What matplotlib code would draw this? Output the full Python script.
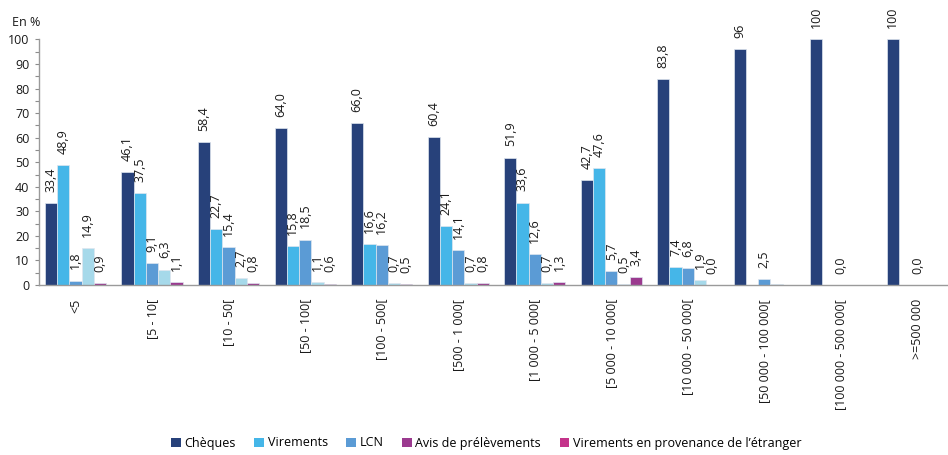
import numpy as np
import matplotlib
matplotlib.use("Agg")
import matplotlib.pyplot as plt
from matplotlib.patches import Patch
from matplotlib.ticker import MultipleLocator

plt.rcParams['font.family'] = ['Open Sans', 'DejaVu Sans']

categories = ["<5", "[5 - 10[", "[10 - 50[", "[50 - 100[", "[100 - 500[",
              "[500 - 1 000[", "[1 000 - 5 000[", "[5 000 - 10 000[",
              "[10 000 - 50 000[", "[50 000 - 100 000[", "[100 000 - 500 000[",
              ">=500 000"]

cheques = [33.4, 46.1, 58.4, 64.0, 66.0, 60.4, 51.9, 42.7, 83.8, 96, 100, 100]
virements = [48.9, 37.5, 22.7, 15.8, 16.6, 24.1, 33.6, 47.6, 7.4, 0.0, np.nan, np.nan]
lcn = [1.8, 9.1, 15.4, 18.5, 16.2, 14.1, 12.6, 5.7, 6.8, 2.5, 0.0, 0.0]
avis = [14.9, 6.3, 2.7, 1.1, 0.7, 0.7, 0.7, 0.5, 1.9, 0.4, np.nan, np.nan]
etranger = [0.9, 1.1, 0.8, 0.6, 0.5, 0.8, 1.3, 3.4, 0.0, 0.0, np.nan, np.nan]

series = [cheques, virements, lcn, avis, etranger]
bar_colors = ["#27417a", "#45b6e8", "#5b9bd5", "#a6d9ea", "#9b3a8f"]

legend_labels = ["Chèques", "Virements", "LCN", "Avis de prélèvements",
                 "Virements en provenance de l’étranger"]
legend_colors = ["#27417a", "#45b6e8", "#5b9bd5", "#9b3a8f", "#c4338a"]

# (series index, category index) pairs drawn without a value label
unlabelled = {(1, 9), (3, 9), (4, 9)}


def fmt(v):
    if v == int(v) and v >= 90:
        return f"{int(v)}"
    return f"{v:.1f}".replace(".", ",")


fig = plt.figure(figsize=(9.48, 4.55), dpi=100)
ax = fig.add_axes([0.0411, 0.3736, 0.9589, 0.5396])

x = np.arange(len(categories))
w = 0.16
for s, (vals, col) in enumerate(zip(series, bar_colors)):
    vals = np.array(vals, dtype=float)
    pos = x + (s - 2) * w
    ax.bar(pos, np.nan_to_num(vals), width=w, color=col,
           edgecolor="#dfe6ef", linewidth=0.5, zorder=2)
    for i, v in enumerate(vals):
        if np.isnan(v) or (s, i) in unlabelled:
            continue
        ax.annotate(fmt(v), (pos[i], v), xytext=(0, 8), textcoords="offset points",
                    rotation=90, ha="center", va="bottom", fontsize=9,
                    color="#1a1a1a")

ax.set_xlim(-0.478, 11.4)
ax.set_ylim(0, 100)
ax.yaxis.set_major_locator(MultipleLocator(10))
ax.yaxis.set_minor_locator(MultipleLocator(5))
ax.set_xticks(x)
ax.set_xticklabels(categories, rotation=90, fontsize=9, va="top", ha="center")
ax.tick_params(axis="x", length=0, pad=10, colors="#1a1a1a")
ax.tick_params(axis="y", which="both", length=3, width=0.8, color="#8c8c8c",
               labelsize=9, labelcolor="#1a1a1a", pad=4)

for side in ("top", "right"):
    ax.spines[side].set_visible(False)
for side in ("left", "bottom"):
    ax.spines[side].set_color("#9a9a9a")
    ax.spines[side].set_linewidth(1.0)

fig.text(0.013, 0.965, "En %", fontsize=9, ha="left", va="top", color="#1a1a1a")

handles = [Patch(facecolor=c, edgecolor="none") for c in legend_colors]
fig.legend(handles, legend_labels, loc="center", ncol=5,
           bbox_to_anchor=(0.513, 1 - 443 / 455), frameon=False,
           fontsize=9, handlelength=0.75, handleheight=0.75,
           handletextpad=0.3, columnspacing=1.5)

fig.savefig("out.png", dpi=100)
